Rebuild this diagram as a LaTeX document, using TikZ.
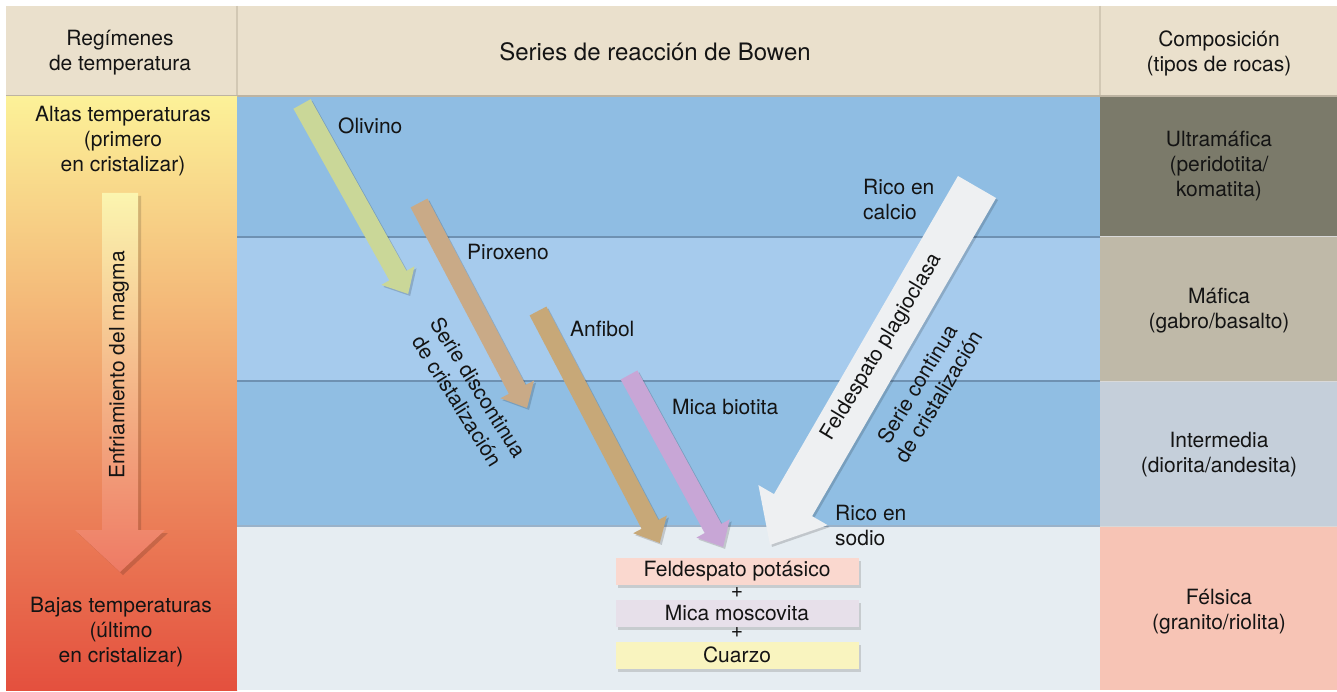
\documentclass[tikz,border=0pt]{standalone}
\usepackage{fontspec}
\setmainfont{TeX Gyre Heros}
\usetikzlibrary{shadows}
\definecolor{hdr}{RGB}{234,224,204}
\definecolor{hdrline}{RGB}{210,200,180}
\definecolor{Ltop}{RGB}{252,241,152}
\definecolor{Lmid}{RGB}{243,172,108}
\definecolor{Lbot}{RGB}{228,80,62}
\definecolor{Atop}{RGB}{251,245,175}
\definecolor{Abot}{RGB}{238,122,100}
\definecolor{bandA}{RGB}{143,189,227}
\definecolor{bandB}{RGB}{166,203,237}
\definecolor{bandC}{RGB}{144,190,227}
\definecolor{bandD}{RGB}{230,237,242}
\definecolor{bandline}{RGB}{110,145,178}
\definecolor{ultra}{RGB}{123,122,106}
\definecolor{mafic}{RGB}{191,185,168}
\definecolor{inter}{RGB}{197,207,218}
\definecolor{felsic}{RGB}{247,196,181}
\definecolor{olivc}{RGB}{202,215,152}
\definecolor{piroc}{RGB}{201,170,135}
\definecolor{anfic}{RGB}{199,168,120}
\definecolor{micac}{RGB}{200,166,214}
\definecolor{plagc}{RGB}{238,240,242}
\definecolor{kfeld}{RGB}{250,216,207}
\definecolor{moscc}{RGB}{231,224,234}
\definecolor{quarc}{RGB}{249,244,191}
\newcommand\mkarrow[8]{%
  \begin{scope}[shift={(#1+2,#2+2)},rotate=#3]
    \fill[black,opacity=0.16] (0,-#5)--(#4-#7,-#5)--(#4-#7,-#6)--(#4,0)--(#4-#7,#6)--(#4-#7,#5)--(0,#5)--cycle;
  \end{scope}
  \begin{scope}[shift={(#1,#2)},rotate=#3]
    \fill[#8] (0,-#5)--(#4-#7,-#5)--(#4-#7,-#6)--(#4,0)--(#4-#7,#6)--(#4-#7,#5)--(0,#5)--cycle;
  \end{scope}}
\tikzset{
  lbl/.style={font=\fontsize{21}{25}\selectfont, inner sep=0pt, align=center, text=black!92},
  ttl/.style={font=\fontsize{24}{28}\selectfont, inner sep=0pt, align=center, text=black!92},
  mbox/.style={lbl, minimum width=243pt, minimum height=27pt,
     drop shadow={shadow xshift=2pt, shadow yshift=-3pt, opacity=0.3}},
}
\begin{document}
\begin{tikzpicture}[x=1pt,y=-1pt]
\useasboundingbox (0,0) rectangle (1337,692);
\fill[white] (0,0) rectangle (1337,692);
% header
\fill[hdr] (6,6) rectangle (1337,96);
\draw[hdrline, line width=1.5pt] (237,6) -- (237,96);
\draw[hdrline, line width=1.5pt] (1100,6) -- (1100,96);
\draw[hdrline!90!black, line width=1.5pt] (6,96) -- (1337,96);
% left column
\shade[top color=Ltop, middle color=Lmid, bottom color=Lbot] (6,97) rectangle (237,690);
% central bands
\fill[bandA] (237,97) rectangle (1100,237);
\fill[bandB] (237,237) rectangle (1100,381);
\fill[bandC] (237,381) rectangle (1100,526);
\fill[bandD] (237,526) rectangle (1100,690);
\draw[bandline, line width=1.5pt] (237,237) -- (1100,237);
\draw[bandline, line width=1.5pt] (237,381) -- (1100,381);
\draw[bandline!70, line width=1.5pt] (237,526) -- (1100,526);
% right column
\fill[ultra] (1100,97) rectangle (1337,237);
\fill[mafic] (1100,237) rectangle (1337,381);
\fill[inter] (1100,381) rectangle (1337,526);
\fill[felsic] (1100,526) rectangle (1337,690);
\draw[white!70!gray, line width=1pt] (1100,237) -- (1337,237);
\draw[white!70!gray, line width=1pt] (1100,381) -- (1337,381);
\draw[white!70!gray, line width=1pt] (1100,526) -- (1337,526);
% left cooling arrow
\fill[black,opacity=0.15] (105,196) -- (141,196) -- (141,533) -- (168,533) -- (123,575) -- (78,533) -- (105,533) -- cycle;
\shade[top color=Atop, bottom color=Abot] (102,193) -- (138,193) -- (138,530) -- (165,530) -- (120,572) -- (75,530) -- (102,530) -- cycle;
% mineral arrows
\mkarrow{302}{104}{-60.8}{217.6}{9.8}{19}{21}{olivc}
\mkarrow{419}{203}{-62.2}{231.7}{9.5}{19}{21}{piroc}
\mkarrow{538}{311}{-62.3}{262}{9.5}{19}{21}{anfic}
\mkarrow{629}{375}{-61.3}{196}{9.5}{19}{21}{micac}
\mkarrow{977}{187}{-120.04}{413.5}{22}{40}{46}{plagc}
% header texts
\node[lbl] (hl) at (120,53) {Regímenes\\de temperatura};
\node[ttl] (hc) at (655,52) {Series de reacción de Bowen};
\node[lbl] (hr) at (1219,53) {Composición\\(tipos de rocas)};
% left texts
\node[lbl] (alt) at (123,141) {Altas temperaturas\\(primero\\en cristalizar)};
\node[lbl] (baj) at (121,632) {Bajas temperaturas\\(último\\en cristalizar)};
\node[lbl, rotate=90] (enf) at (119,365) {Enfriamiento del magma};
% right texts
\node[lbl] (ul) at (1219,166) {Ultramáfica\\(peridotita/\\komatita)};
\node[lbl] (ma) at (1219,311) {Máfica\\(gabro/basalto)};
\node[lbl] (in) at (1219,455) {Intermedia\\(diorita/andesita)};
\node[lbl] (fe) at (1219,612) {Félsica\\(granito/riolita)};
% arrow labels
\node[lbl, anchor=west] (lol) at (338,126) {Olivino};
\node[lbl, anchor=west] (lpi) at (467,252) {Piroxeno};
\node[lbl, anchor=west] (lan) at (570,329) {Anfibol};
\node[lbl, anchor=west] (lmi) at (672,407) {Mica biotita};
\node[lbl, anchor=west, align=left] (lca) at (863,200) {Rico en\\calcio};
\node[lbl, anchor=west, align=left] (lso) at (835,525) {Rico en\\sodio};
\node[lbl, rotate=59] (lfp) at (882,347) {Feldespato plagioclasa};
\node[lbl, rotate=59] (lsc) at (928,390) {Serie continua\\de cristalización};
\node[lbl, rotate=-58] (lsd) at (468,394) {Serie discontinua\\de cristalización};
% final boxes
\node[mbox, fill=kfeld] (bk) at (737,571.5) {Feldespato potásico};
\node[lbl] (p1) at (737,593) {+};
\node[mbox, fill=moscc] (bm) at (737,613) {Mica moscovita};
\node[lbl] (p2) at (737,633) {+};
\node[mbox, fill=quarc] (bq) at (737,655) {Cuarzo};
\end{tikzpicture}
\end{document}
